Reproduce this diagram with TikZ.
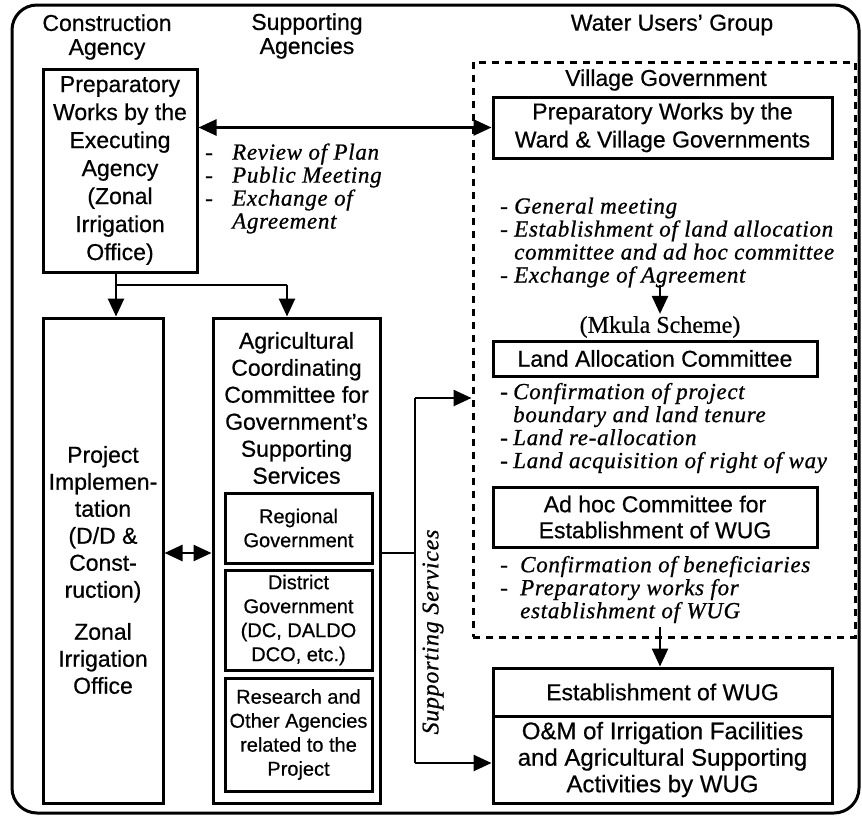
\documentclass[tikz,border=0pt]{standalone}
\usepackage{fontspec}
\setmainfont{Liberation Sans}[FakeBold=0.6,BoldFont=*]
\newfontfamily\tmsit{Liberation Serif}[LetterSpace=3,ItalicFeatures={FakeBold=0.8}]
\newfontfamily\tmsrm{Liberation Serif}[FakeBold=0.6,BoldFont=*]
\usetikzlibrary{arrows.meta,calc}
\newcommand\lidash[1]{\makebox[#1][l]{-}}
\begin{document}
\begin{tikzpicture}[x=1pt,y=-1pt,
  >={Triangle[length=18pt,width=16pt]},
  box/.style={draw,line width=3pt,inner sep=0pt},
  sans/.style={font=\bfseries\fontsize{23}{28}\selectfont,align=center,inner sep=0pt},
  hdr/.style={font=\bfseries\fontsize{23}{24}\selectfont,align=center,inner sep=0pt},
  small/.style={font=\bfseries\fontsize{20}{24}\selectfont,align=center,inner sep=0pt},
  omtext/.style={font=\bfseries\fontsize{24}{26.5}\selectfont,align=center,inner sep=0pt},
  itl/.style={font=\tmsit\itshape\fontsize{23}{23}\selectfont,align=left,inner sep=0pt,anchor=west},
  conn/.style={line width=2.6pt},
  vgframe/.style={draw,line width=3pt,dash pattern=on 7pt off 6pt,inner sep=0pt}
]
\useasboundingbox (0,0) rectangle (862,817);
% outer frame
\draw[line width=3pt,rounded corners=25pt] (12,5) rectangle (859,813);

% headers
\node[hdr] (hca) at (107,37) {Construction\\Agency};
\node[hdr] (hsa) at (307,36) {Supporting\\Agencies};
\node[hdr] (hwug) at (672,25) {Water Users' Group};

% preparatory works by executing agency
\node[box,sans,minimum width=154pt,minimum height=203pt] (prep) at (120,170.5)
  {Preparatory\\Works by the\\Executing\\Agency\\(Zonal\\Irrigation\\Office)};

% village government frame
\node[vgframe,minimum width=382pt,minimum height=575pt] (vg) at (664,349.5) {};
\node[sans] (vgt) at (666,80) {Village Government};

\node[box,sans,minimum width=339pt,minimum height=61pt] (ward) at (662.5,127.5)
  {Preparatory Works by the\\Ward \& Village Governments};

\draw[conn,<->] (prep.east |- ward.west) -- (ward.west);

\node[itl] (l1) at (205,188.5)
  {\lidash{27pt}Review of Plan\\\lidash{27pt}Public Meeting\\\lidash{27pt}Exchange of\\\hspace*{27pt}Agreement};

\node[itl] (l2) at (500,242.5)
  {\lidash{14pt}General meeting\\\lidash{14pt}Establishment of land allocation\\\hspace*{14pt}committee and ad hoc committee\\\lidash{14pt}Exchange of Agreement};

\coordinate (a1) at (660,285);
\node[font=\tmsrm\bfseries\fontsize{24}{24}\selectfont,inner sep=2pt] (mk) at (660,327) {(Mkula Scheme)};
\draw[conn,->] (a1) -- (mk.north);

\node[box,sans,minimum width=324pt,minimum height=35pt] (lac) at (655,358.5) {Land Allocation Committee};

\node[itl] (l3) at (500,428)
  {\lidash{13pt}Confirmation of project\\\hspace*{13pt}boundary and land tenure\\\lidash{13pt}Land re-allocation\\\lidash{13pt}Land acquisition of right of way};

\node[box,sans,minimum width=324pt,minimum height=60pt,font=\bfseries\fontsize{23}{26}\selectfont] (adhoc) at (655,517)
  {Ad hoc Committee for\\Establishment of WUG};

\node[itl] (l4) at (500,589.5)
  {\lidash{20pt}Confirmation of beneficiaries\\\lidash{20pt}Preparatory works for\\\hspace*{20pt}establishment of WUG};

% establishment of WUG
\node[box,sans,minimum width=339pt,minimum height=48pt] (est) at (662.5,692) {Establishment of WUG};
\node[box,omtext,minimum width=339pt,minimum height=87pt] (om) at (662.5,759.5)
  {O\&M of Irrigation Facilities\\and Agricultural Supporting\\Activities by WUG};

\coordinate (a2) at (660,627);
\draw[conn,->] (a2) -- (est.north -| a2);

% project implementation
\node[box,minimum width=120pt,minimum height=485pt] (proj) at (103,560.5) {};
\node[sans,font=\bfseries\fontsize{23}{27}\selectfont] (projt) at (103,570)
  {Project\\Implemen-\\tation\\(D/D \&\\Const-\\ruction)\\[15pt]Zonal\\Irrigation\\Office};

% agricultural coordinating committee
\node[box,minimum width=167pt,minimum height=485pt] (ag) at (296.5,560.5) {};
\node[sans,font=\bfseries\fontsize{23}{27}\selectfont] (agt) at (296.5,408)
  {Agricultural\\Coordinating\\Committee for\\Government's\\Supporting\\Services};
\node[box,small,minimum width=147pt,minimum height=70pt] (reg) at (298.5,528) {Regional\\Government};
\node[box,small,minimum width=147pt,minimum height=100pt] (dist) at (298.5,620) {District\\Government\\(DC, DALDO\\DCO, etc.)};
\node[box,small,minimum width=147pt,minimum height=113pt] (res) at (298.5,734.5) {Research and\\Other Agencies\\related to the\\Project};

% connectors from preparatory box
\coordinate (j1) at (116,285);
\coordinate (j2) at (287,285);
\draw[conn] (prep.south -| j1) -- (j1) -- (j2);
\draw[conn,->] (j1) -- (proj.north -| j1);
\draw[conn,->] (j2) -- (ag.north -| j2);

% project <-> agricultural committee
\coordinate (dy) at (0,553);
\draw[conn,<->] (proj.east |- dy) -- (ag.west |- dy);

% supporting services
\coordinate (s1) at (415,553);
\coordinate (st) at (415,398);
\coordinate (sb) at (415,763);
\draw[conn] (ag.east |- s1) -- (s1);
\draw[conn] (st) -- (sb);
\draw[conn,->] (st) -- (vg.west |- st);
\draw[conn,->] (sb) -- (om.west |- sb);
\node[font=\tmsit\itshape\fontsize{24}{24}\selectfont,inner sep=0pt,rotate=90] (ss) at (433,632) {Supporting Services};
\end{tikzpicture}
\end{document}
